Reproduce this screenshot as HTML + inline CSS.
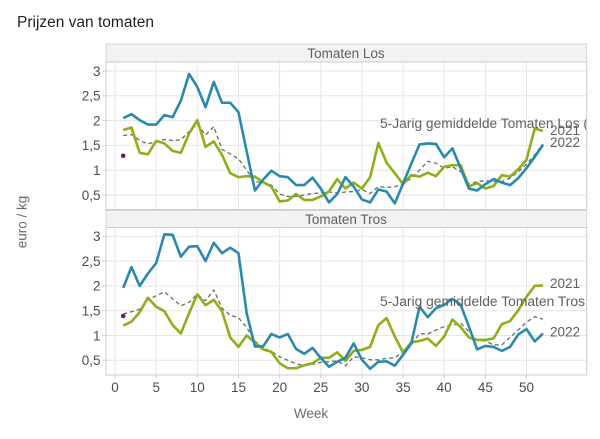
<!DOCTYPE html>
<html><head><meta charset="utf-8"><style>
html,body{margin:0;padding:0;background:#fff;}
svg{display:block;font-family:"Liberation Sans",Arial,sans-serif;}
</style></head><body>
<svg width="600" height="439" viewBox="0 0 600 439" xmlns="http://www.w3.org/2000/svg">
<defs>
<clipPath id="c1"><rect x="106" y="62" width="481" height="147.5"/></clipPath>
<clipPath id="c2"><rect x="106" y="227.5" width="481" height="147.5"/></clipPath>
</defs>
<rect width="600" height="439" fill="#fff"/>
<text x="17" y="27" font-size="15.5" fill="#222">Prijzen van tomaten</text>

<!-- top strip -->
<rect x="106" y="44" width="480.7" height="18" fill="#f2f2f2" stroke="#d6d6d6" stroke-width="1"/>
<text x="346" y="58" font-size="13.5" fill="#5e5e5e" text-anchor="middle">Tomaten Los</text>
<!-- bottom strip -->
<rect x="106" y="210.5" width="480.7" height="17" fill="#f2f2f2" stroke="#d6d6d6" stroke-width="1"/>
<text x="346" y="224" font-size="13.5" fill="#5e5e5e" text-anchor="middle">Tomaten Tros</text>

<!-- grids top -->
<g stroke="#e6e6e6" stroke-width="1">
<line x1="106" x2="586.7" y1="71" y2="71"/><line x1="106" x2="586.7" y1="95.8" y2="95.8"/><line x1="106" x2="586.7" y1="120.6" y2="120.6"/><line x1="106" x2="586.7" y1="145.4" y2="145.4"/><line x1="106" x2="586.7" y1="170.2" y2="170.2"/><line x1="106" x2="586.7" y1="195" y2="195"/>
<line x1="115" x2="115" y1="62" y2="209.5"/><line x1="156.2" x2="156.2" y1="62" y2="209.5"/><line x1="197.3" x2="197.3" y1="62" y2="209.5"/><line x1="238.5" x2="238.5" y1="62" y2="209.5"/><line x1="279.6" x2="279.6" y1="62" y2="209.5"/><line x1="320.8" x2="320.8" y1="62" y2="209.5"/><line x1="361.9" x2="361.9" y1="62" y2="209.5"/><line x1="403.1" x2="403.1" y1="62" y2="209.5"/><line x1="444.2" x2="444.2" y1="62" y2="209.5"/><line x1="485.4" x2="485.4" y1="62" y2="209.5"/><line x1="526.5" x2="526.5" y1="62" y2="209.5"/>
</g>
<!-- grids bottom -->
<g stroke="#e6e6e6" stroke-width="1">
<line x1="106" x2="586.7" y1="236.3" y2="236.3"/><line x1="106" x2="586.7" y1="261.1" y2="261.1"/><line x1="106" x2="586.7" y1="285.9" y2="285.9"/><line x1="106" x2="586.7" y1="310.7" y2="310.7"/><line x1="106" x2="586.7" y1="335.5" y2="335.5"/><line x1="106" x2="586.7" y1="360.3" y2="360.3"/>
<line x1="115" x2="115" y1="227.5" y2="375"/><line x1="156.2" x2="156.2" y1="227.5" y2="375"/><line x1="197.3" x2="197.3" y1="227.5" y2="375"/><line x1="238.5" x2="238.5" y1="227.5" y2="375"/><line x1="279.6" x2="279.6" y1="227.5" y2="375"/><line x1="320.8" x2="320.8" y1="227.5" y2="375"/><line x1="361.9" x2="361.9" y1="227.5" y2="375"/><line x1="403.1" x2="403.1" y1="227.5" y2="375"/><line x1="444.2" x2="444.2" y1="227.5" y2="375"/><line x1="485.4" x2="485.4" y1="227.5" y2="375"/><line x1="526.5" x2="526.5" y1="227.5" y2="375"/>
</g>

<!-- TOP PANEL DATA -->
<g clip-path="url(#c1)">
<g transform="matrix(8.23 0 0 -49.6 115 219.8)" fill="none" stroke-linejoin="round">
<polyline vector-effect="non-scaling-stroke" stroke="#6b6b6b" stroke-width="1.3" stroke-dasharray="4,3" points="1,1.70 2,1.72 3,1.60 4,1.53 5,1.58 6,1.62 7,1.60 8,1.61 9,1.78 10,1.93 11,1.71 12,1.88 13,1.42 14,1.33 15,1.23 16,1.00 17,0.77 18,0.75 19,0.70 20,0.52 21,0.47 22,0.47 23,0.50 24,0.53 25,0.54 26,0.56 27,0.54 28,0.56 29,0.57 30,0.61 31,0.53 32,0.67 33,0.65 34,0.67 35,0.72 36,0.84 37,1.00 38,1.18 39,1.14 40,1.04 41,1.07 42,0.97 43,0.72 44,0.77 45,0.79 46,0.77 47,0.77 48,0.84 49,0.97 50,1.12 51,1.31 52,1.53"/>
<polyline vector-effect="non-scaling-stroke" stroke="#8cb01a" stroke-width="2.6" points="1,1.81 2,1.86 3,1.35 4,1.32 5,1.59 6,1.54 7,1.39 8,1.35 9,1.74 10,2.01 11,1.47 12,1.58 13,1.31 14,0.94 15,0.86 16,0.88 17,0.87 18,0.76 19,0.67 20,0.37 21,0.39 22,0.52 23,0.40 24,0.40 25,0.47 26,0.57 27,0.82 28,0.63 29,0.75 30,0.63 31,0.86 32,1.55 33,1.15 34,0.94 35,0.72 36,0.90 37,0.87 38,0.95 39,0.88 40,1.07 41,1.10 42,1.10 43,0.67 44,0.74 45,0.63 46,0.68 47,0.90 48,0.87 49,1.02 50,1.21 51,1.84 52,1.79"/>
<polyline vector-effect="non-scaling-stroke" stroke="#2a8aad" stroke-width="2.6" points="1,2.05 2,2.13 3,2.01 4,1.92 5,1.92 6,2.11 7,2.07 8,2.40 9,2.94 10,2.68 11,2.27 12,2.78 13,2.36 14,2.36 15,2.17 16,1.38 17,0.59 18,0.81 19,0.99 20,0.88 21,0.86 22,0.70 23,0.70 24,0.85 25,0.63 26,0.35 27,0.52 28,0.86 29,0.67 30,0.41 31,0.35 32,0.61 33,0.57 34,0.33 35,0.73 36,1.13 37,1.52 38,1.54 39,1.53 40,1.26 41,1.44 42,1.04 43,0.63 44,0.59 45,0.72 46,0.82 47,0.75 48,0.70 49,0.84 50,1.04 51,1.27 52,1.51"/>
</g>
<circle cx="123.2" cy="155.8" r="2.3" fill="#7a1f3d"/>
<text x="380" y="128" font-size="13.5" fill="#5f5f5f" textLength="208" lengthAdjust="spacingAndGlyphs">5-Jarig gemiddelde Tomaten Los (</text>
<text x="550" y="135" font-size="13.5" fill="#5f5f5f">2021</text>
<text x="550" y="147" font-size="13.5" fill="#5f5f5f">2022</text>
</g>
<rect x="106" y="62" width="480.7" height="147.5" fill="none" stroke="#cccccc" stroke-width="1"/>

<!-- BOTTOM PANEL DATA -->
<g clip-path="url(#c2)">
<g transform="matrix(8.23 0 0 -49.6 115 385.1)" fill="none" stroke-linejoin="round">
<polyline vector-effect="non-scaling-stroke" stroke="#6b6b6b" stroke-width="1.3" stroke-dasharray="4,3" points="1,1.43 2,1.48 3,1.53 4,1.72 5,1.80 6,1.88 7,1.74 8,1.60 9,1.67 10,1.83 11,1.70 12,1.92 13,1.55 14,1.41 15,1.36 16,1.16 17,0.89 18,0.75 19,0.68 20,0.57 21,0.50 22,0.43 23,0.39 24,0.42 25,0.46 26,0.47 27,0.49 28,0.39 29,0.57 30,0.55 31,0.51 32,0.51 33,0.54 34,0.55 35,0.67 36,0.81 37,1.04 38,1.03 39,1.11 40,1.18 41,1.21 42,1.25 43,1.08 44,0.91 45,0.89 46,0.81 47,0.81 48,0.96 49,1.11 50,1.27 51,1.38 52,1.33"/>
<polyline vector-effect="non-scaling-stroke" stroke="#8cb01a" stroke-width="2.6" points="1,1.20 2,1.28 3,1.47 4,1.76 5,1.58 6,1.49 7,1.21 8,1.04 9,1.45 10,1.83 11,1.61 12,1.72 13,1.49 14,0.96 15,0.77 16,1.00 17,0.86 18,0.72 19,0.67 20,0.44 21,0.34 22,0.34 23,0.40 24,0.44 25,0.55 26,0.55 27,0.66 28,0.49 29,0.69 30,0.71 31,0.77 32,1.21 33,1.35 34,0.98 35,0.66 36,0.86 37,0.89 38,0.94 39,0.79 40,0.98 41,1.32 42,1.17 43,0.96 44,0.91 45,0.91 46,0.94 47,1.23 48,1.29 49,1.51 50,1.78 51,2.00 52,2.01"/>
<polyline vector-effect="non-scaling-stroke" stroke="#2a8aad" stroke-width="2.6" points="1,1.96 2,2.38 3,2.00 4,2.25 5,2.46 6,3.04 7,3.03 8,2.59 9,2.79 10,2.80 11,2.50 12,2.87 13,2.66 14,2.77 15,2.66 16,1.45 17,0.78 18,0.78 19,1.03 20,0.96 21,1.03 22,0.73 23,0.63 24,0.75 25,0.55 26,0.37 27,0.47 28,0.55 29,0.84 30,0.51 31,0.33 32,0.47 33,0.48 34,0.39 35,0.61 36,0.84 37,1.58 38,1.37 39,1.55 40,1.62 41,1.74 42,1.62 43,1.18 44,0.72 45,0.79 46,0.77 47,0.69 48,0.77 49,1.02 50,1.13 51,0.88 52,1.04"/>
</g>
<circle cx="123.2" cy="316" r="2.3" fill="#7a1f3d"/>
<text x="550" y="288" font-size="13.5" fill="#5f5f5f">2021</text>
<text x="380" y="306" font-size="13.5" fill="#5f5f5f" textLength="205" lengthAdjust="spacingAndGlyphs">5-Jarig gemiddelde Tomaten Tros</text>
<text x="550" y="336.5" font-size="13.5" fill="#5f5f5f">2022</text>
</g>
<rect x="106" y="227.5" width="480.7" height="147.5" fill="none" stroke="#cccccc" stroke-width="1"/>

<!-- ticks -->
<g stroke="#cccccc" stroke-width="1">
<line x1="102.5" x2="106" y1="71" y2="71"/><line x1="102.5" x2="106" y1="95.8" y2="95.8"/><line x1="102.5" x2="106" y1="120.6" y2="120.6"/><line x1="102.5" x2="106" y1="145.4" y2="145.4"/><line x1="102.5" x2="106" y1="170.2" y2="170.2"/><line x1="102.5" x2="106" y1="195" y2="195"/>
<line x1="102.5" x2="106" y1="236.3" y2="236.3"/><line x1="102.5" x2="106" y1="261.1" y2="261.1"/><line x1="102.5" x2="106" y1="285.9" y2="285.9"/><line x1="102.5" x2="106" y1="310.7" y2="310.7"/><line x1="102.5" x2="106" y1="335.5" y2="335.5"/><line x1="102.5" x2="106" y1="360.3" y2="360.3"/>
<line x1="115" x2="115" y1="375" y2="378.5"/><line x1="156.2" x2="156.2" y1="375" y2="378.5"/><line x1="197.3" x2="197.3" y1="375" y2="378.5"/><line x1="238.5" x2="238.5" y1="375" y2="378.5"/><line x1="279.6" x2="279.6" y1="375" y2="378.5"/><line x1="320.8" x2="320.8" y1="375" y2="378.5"/><line x1="361.9" x2="361.9" y1="375" y2="378.5"/><line x1="403.1" x2="403.1" y1="375" y2="378.5"/><line x1="444.2" x2="444.2" y1="375" y2="378.5"/><line x1="485.4" x2="485.4" y1="375" y2="378.5"/><line x1="526.5" x2="526.5" y1="375" y2="378.5"/>
</g>
<g font-size="13.5" fill="#4d4d4d" text-anchor="end">
<text x="100.5" y="75.8">3</text><text x="100.5" y="100.6">2,5</text><text x="100.5" y="125.4">2</text><text x="100.5" y="150.2">1,5</text><text x="100.5" y="175">1</text><text x="100.5" y="199.8">0,5</text>
<text x="100.5" y="241.1">3</text><text x="100.5" y="265.9">2,5</text><text x="100.5" y="290.7">2</text><text x="100.5" y="315.5">1,5</text><text x="100.5" y="340.3">1</text><text x="100.5" y="365.1">0,5</text>
</g>
<g font-size="13.5" fill="#4d4d4d" text-anchor="middle">
<text x="115" y="392">0</text><text x="156.2" y="392">5</text><text x="197.3" y="392">10</text><text x="238.5" y="392">15</text><text x="279.6" y="392">20</text><text x="320.8" y="392">25</text><text x="361.9" y="392">30</text><text x="403.1" y="392">35</text><text x="444.2" y="392">40</text><text x="485.4" y="392">45</text><text x="526.5" y="392">50</text>
</g>
<text x="311" y="418" font-size="13.5" fill="#6b6b6b" text-anchor="middle">Week</text>
<text transform="translate(26.5,222) rotate(-90)" font-size="13.5" fill="#6b6b6b" text-anchor="middle">euro / kg</text>
</svg>
</body></html>
